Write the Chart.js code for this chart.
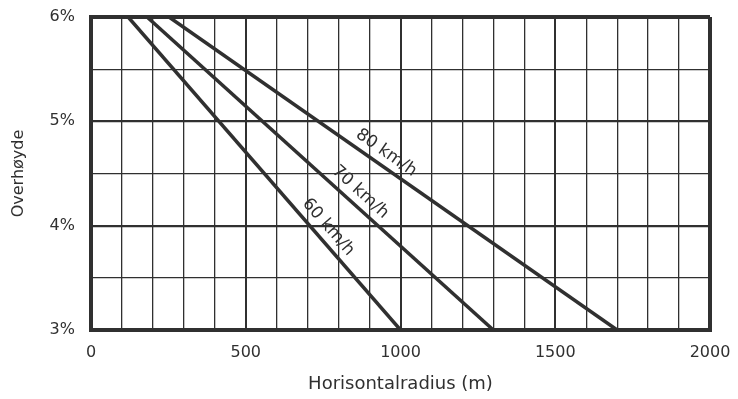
<!DOCTYPE html>
<html>
<head>
<meta charset="utf-8">
<script src="https://cdn.jsdelivr.net/npm/chart.js@4/dist/chart.umd.min.js"></script>
<style>
  html, body { margin: 0; padding: 0; background: #fff; }
  #wrap { width: 738px; height: 399px; }
</style>
</head>
<body>
<div id="wrap"><canvas id="chart"></canvas></div>
<script>
// speed curves: radius (m) at 6% and at 3% superelevation
var speeds = ["60 km/h", "70 km/h", "80 km/h"];
var radiusAt6 = [120, 181, 252];
var radiusAt3 = [1000, 1300, 1700];
var slopeTop = 6, slopeBottom = 3;
// radius where each speed label is centred along its line
var labelAt = [735, 842, 930];

var ink = "#303030";
var font = "'DejaVu Sans', sans-serif";

var datasets = speeds.map(function (s, i) {
  return {
    label: s,
    data: [{ x: radiusAt6[i], y: slopeTop }, { x: radiusAt3[i], y: slopeBottom }],
    borderColor: ink,
    borderWidth: 3.5,
    pointRadius: 0,
    fill: false
  };
});

// write the speed just above each line, turned to follow it
var lineLabels = {
  id: "lineLabels",
  afterDatasetsDraw: function (chart) {
    var ctx = chart.ctx, xs = chart.scales.x, ys = chart.scales.y;
    ctx.save();
    ctx.fillStyle = ink;
    ctx.font = "17px " + font;
    ctx.textAlign = "center";
    ctx.textBaseline = "middle";
    speeds.forEach(function (s, i) {
      var x0 = xs.getPixelForValue(radiusAt6[i]), y0 = ys.getPixelForValue(slopeTop);
      var x1 = xs.getPixelForValue(radiusAt3[i]), y1 = ys.getPixelForValue(slopeBottom);
      var t = (labelAt[i] - radiusAt6[i]) / (radiusAt3[i] - radiusAt6[i]);
      ctx.save();
      ctx.translate(x0 + t * (x1 - x0), y0 + t * (y1 - y0));
      ctx.rotate(Math.atan2(y1 - y0, x1 - x0));
      ctx.fillText(s, 0, -13);
      ctx.restore();
    });
    ctx.restore();
  }
};

new Chart(document.getElementById("chart"), {
  type: "line",
  data: { datasets: datasets },
  plugins: [lineLabels],
  options: {
    responsive: true,
    maintainAspectRatio: false,
    animation: false,
    layout: { padding: { left: 5, right: 28, top: 17, bottom: 0 } },
    plugins: { legend: { display: false }, tooltip: { enabled: false } },
    scales: {
      x: {
        type: "linear",
        min: 0,
        max: 2000,
        afterFit: function (s) {
          s.height = 69;
          s.paddingLeft = 0;
          s.paddingRight = 0;
        },
        border: { display: true, color: ink, width: 4 },
        grid: {
          color: ink,
          drawTicks: false,
          lineWidth: function (c) {
            var v = c.tick.value;
            if (v === 0 || v === 2000) return 4;
            return v % 500 === 0 ? 2 : 1.3;
          }
        },
        ticks: {
          stepSize: 100,
          color: ink,
          padding: 13,
          maxRotation: 0,
          autoSkip: false,
          font: { family: font, size: 16 },
          callback: function (v) { return v % 500 === 0 ? v : ""; }
        },
        title: {
          display: true,
          text: "Horisontalradius (m)",
          color: ink,
          padding: { top: 19 },
          font: { family: font, size: 18 }
        }
      },
      y: {
        type: "linear",
        min: 3,
        max: 6,
        afterFit: function (s) {
          s.width = 86;
          s.paddingTop = 0;
          s.paddingBottom = 0;
        },
        border: { display: true, color: ink, width: 4 },
        grid: {
          color: ink,
          drawTicks: false,
          lineWidth: function (c) {
            var v = c.tick.value;
            if (v === 3 || v === 6) return 4;
            return v % 1 === 0 ? 2.2 : 1.3;
          }
        },
        ticks: {
          stepSize: 0.5,
          color: ink,
          padding: 16,
          font: { family: font, size: 16 },
          callback: function (v) { return v % 1 === 0 ? v + "%" : ""; }
        },
        title: {
          display: true,
          text: "Overhøyde",
          color: ink,
          padding: { bottom: 4 },
          font: { family: font, size: 16 }
        }
      }
    }
  }
});
</script>
</body>
</html>
